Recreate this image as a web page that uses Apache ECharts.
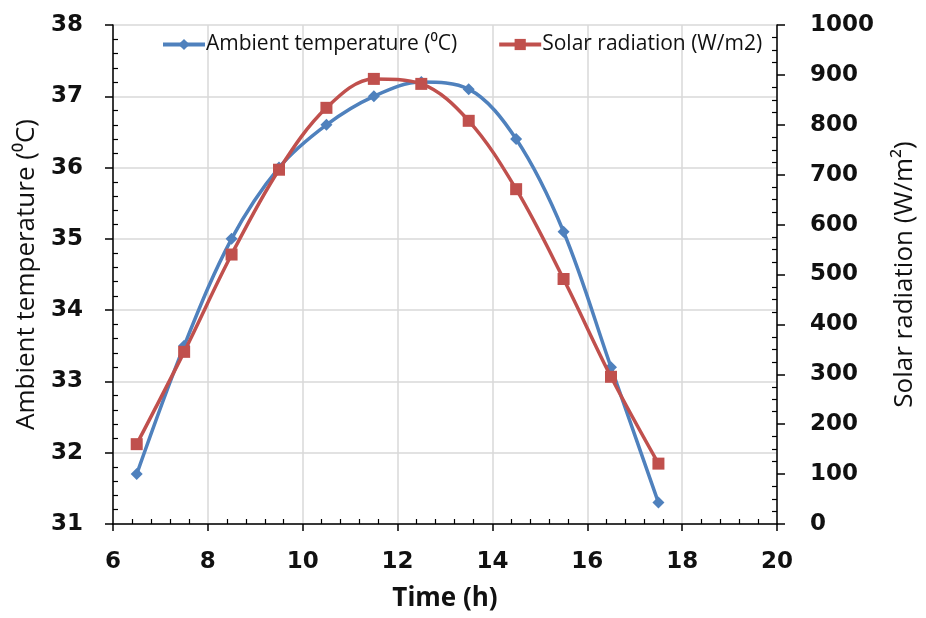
<!DOCTYPE html>
<html>
<head>
<meta charset="utf-8">
<script src="https://cdn.jsdelivr.net/npm/echarts@6/dist/echarts.min.js"></script>
<style>
  html, body { margin: 0; padding: 0; background: #fff; }
  #chart { width: 926px; height: 618px; }
</style>
</head>
<body>
<div id="chart"></div>
<script>
// Hourly readings
const hours = [6.5, 7.5, 8.5, 9.5, 10.5, 11.5, 12.5, 13.5, 14.5, 15.5, 16.5, 17.5];
const ambientTemp = [31.7, 33.5, 35.0, 36.0, 36.6, 37.0, 37.2, 37.1, 36.4, 35.1, 33.2, 31.3];
const solarRadiation = [160, 345, 540, 710, 834, 892, 882, 808, 671, 491, 295, 121];

const tempName = 'Ambient temperature (\u2070C)';
const solarName = 'Solar radiation (W/m2)';

const BLUE = '#4F81BD';
const RED = '#C0504D';
const GRID = '#d9d9d9';
const TEXT_FONT = "'Open Sans', 'DejaVu Sans', sans-serif";
const tickFont = { fontFamily: 'DejaVu Sans', fontWeight: 'bold', fontSize: 23, color: '#111' };
const titleFont = { fontFamily: TEXT_FONT, fontSize: 26, color: '#111' };

const pairs = (xs, ys) => xs.map((x, i) => [x, ys[i]]);

const chart = echarts.init(document.getElementById('chart'), null, { renderer: 'canvas' });

const blankAxis = {
  axisLine: { show: false },
  axisLabel: { show: false },
  splitLine: { show: false },
  axisTick: { show: false, inside: true }
};

chart.setOption({
  animation: false,
  backgroundColor: '#fff',
  grid: { left: 113, right: 148, top: 25, bottom: 94, containLabel: false },
  legend: {
    top: 29,
    left: 156,
    itemWidth: 42,
    itemHeight: 14,
    itemGap: 40,
    lineStyle: { width: 4 },
    textStyle: { fontFamily: TEXT_FONT, fontSize: 21, color: '#111', padding: [0, 0, 0, -4] },
    data: [tempName, solarName]
  },
  xAxis: [
    {
      type: 'value',
      min: 6, max: 20, interval: 2,
      name: 'Time (h)',
      nameLocation: 'middle',
      nameGap: 62,
      nameTextStyle: { fontFamily: TEXT_FONT, fontWeight: 'bold', fontSize: 26, color: '#111' },
      axisLine: { show: true, lineStyle: { color: '#000', width: 1.5 } },
      axisTick: { show: true, length: 7, lineStyle: { color: '#000', width: 1.5 } },
      axisLabel: Object.assign({ margin: 27 }, tickFont),
      splitLine: { show: true, lineStyle: { color: GRID, width: 1.5 } }
    },
    Object.assign({
      type: 'value', min: 6, max: 20, interval: 2, position: 'bottom',
      minorTick: { show: true, splitNumber: 5, length: 5, lineStyle: { color: '#000', width: 1.2 } }
    }, blankAxis)
  ],
  yAxis: [
    {
      type: 'value',
      min: 31, max: 38, interval: 1,
      position: 'left',
      name: tempName,
      nameLocation: 'middle',
      nameRotate: 90,
      nameGap: 72,
      nameTextStyle: titleFont,
      axisLine: { show: true, lineStyle: { color: '#000', width: 1.5 } },
      axisTick: { show: true, length: 8, lineStyle: { color: '#000', width: 1.5 } },
      axisLabel: Object.assign({ margin: 30 }, tickFont),
      splitLine: { show: true, lineStyle: { color: GRID, width: 1.5 } }
    },
    {
      type: 'value',
      min: 0, max: 1000, interval: 100,
      position: 'right',
      name: 'Solar radiation (W/m\u00B2)',
      nameLocation: 'middle',
      nameRotate: 90,
      nameGap: 115,
      nameTextStyle: titleFont,
      axisLine: { show: true, lineStyle: { color: '#000', width: 1.5 } },
      axisTick: { show: true, length: 8, lineStyle: { color: '#000', width: 1.5 } },
      axisLabel: Object.assign({ margin: 33, formatter: v => String(v) }, tickFont),
      splitLine: { show: false }
    },
    Object.assign({
      type: 'value', min: 31, max: 38, interval: 1, position: 'left',
      minorTick: { show: true, splitNumber: 5, length: 5, lineStyle: { color: '#000', width: 1.2 } }
    }, blankAxis),
    Object.assign({
      type: 'value', min: 0, max: 1000, interval: 100, position: 'right',
      minorTick: { show: true, splitNumber: 4, length: 5, lineStyle: { color: '#000', width: 1.2 } }
    }, blankAxis)
  ],
  series: [
    {
      name: tempName,
      type: 'line',
      xAxisIndex: 0,
      yAxisIndex: 0,
      data: pairs(hours, ambientTemp),
      smooth: 0.35,
      symbol: 'diamond',
      symbolSize: 12,
      lineStyle: { color: BLUE, width: 3.5 },
      itemStyle: { color: BLUE },
      z: 3
    },
    {
      name: solarName,
      type: 'line',
      xAxisIndex: 0,
      yAxisIndex: 1,
      data: pairs(hours, solarRadiation),
      smooth: 0.35,
      symbol: 'rect',
      symbolSize: 12,
      lineStyle: { color: RED, width: 3.5 },
      itemStyle: { color: RED },
      z: 4
    }
  ]
});
</script>
</body>
</html>
